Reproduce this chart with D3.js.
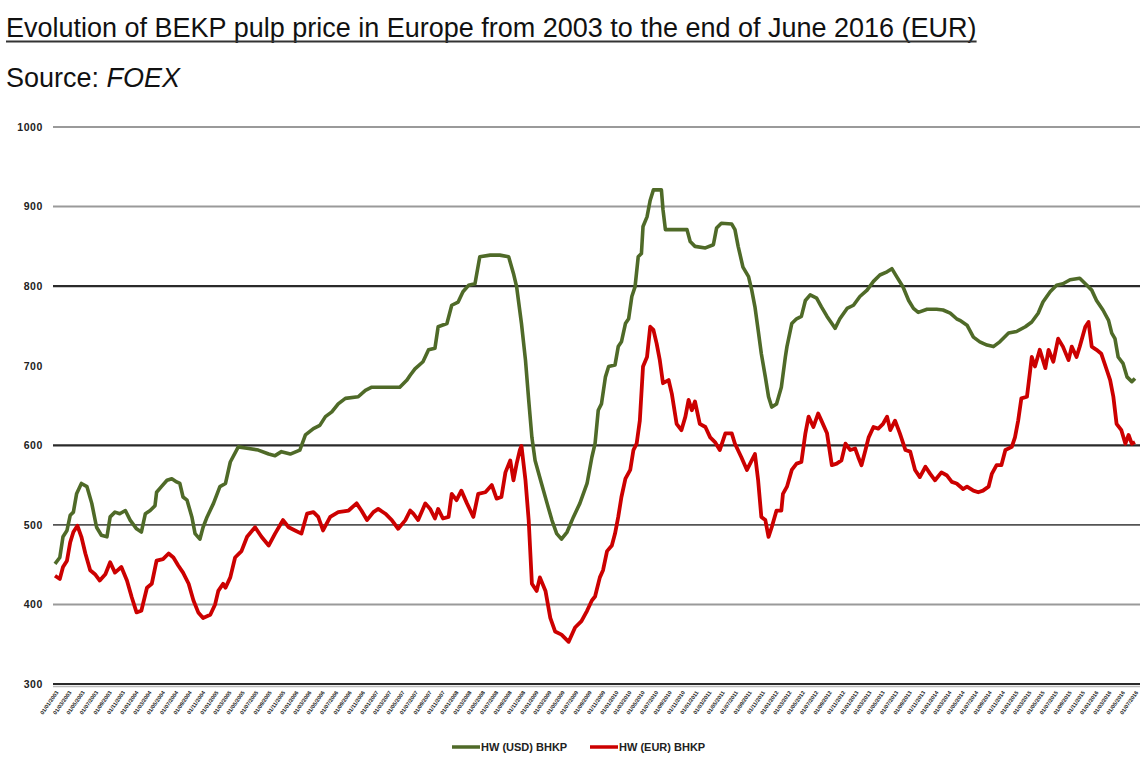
<!DOCTYPE html>
<html>
<head>
<meta charset="utf-8">
<script src="https://cdn.jsdelivr.net/npm/d3@7"></script>
<style>
  body { margin: 0; background: #fff; }
  svg { display: block; font-family: "Liberation Sans", Arial, sans-serif; }
</style>
</head>
<body>
<svg id="chart" width="1143" height="764"></svg>
<script>
// Series names (legend)
var seriesNames = ["HW (USD) BHKP", "HW (EUR) BHKP"];

// HW (USD) BHKP - decimal year / price
var usdYears = [2003.00,2003.06,2003.10,2003.15,2003.19,2003.23,2003.27,2003.33,2003.40,2003.46,2003.52,2003.58,2003.65,2003.69,2003.75,2003.81,2003.88,2003.94,
  2004.02,2004.08,2004.13,2004.19,2004.25,2004.27,2004.33,2004.40,2004.46,2004.52,2004.56,2004.60,2004.65,2004.71,2004.75,2004.81,2004.85,2004.90,2004.98,
  2005.06,2005.13,2005.19,2005.29,2005.42,2005.54,2005.67,2005.75,2005.83,2005.94,2006.06,2006.13,2006.23,2006.31,2006.38,2006.46,2006.54,2006.63,2006.79,2006.88,2006.96,
  2007.13,2007.31,2007.40,2007.44,2007.50,2007.60,2007.67,2007.75,2007.79,2007.90,2007.96,2008.04,2008.10,2008.17,2008.25,2008.31,2008.44,2008.56,2008.67,2008.73,2008.77,2008.83,2008.88,2008.92,2008.96,
  2009.00,2009.08,2009.15,2009.21,2009.27,2009.33,2009.40,2009.48,2009.56,2009.65,2009.71,2009.75,2009.79,2009.83,2009.88,2009.92,
  2010.00,2010.04,2010.08,2010.13,2010.17,2010.21,2010.25,2010.29,2010.33,2010.35,2010.40,2010.44,2010.48,2010.58,2010.60,2010.63,2010.75,2010.90,2010.94,
  2011.00,2011.13,2011.23,2011.27,2011.33,2011.46,2011.50,2011.54,2011.60,2011.67,2011.71,2011.75,2011.79,2011.83,2011.88,2011.92,2011.96,
  2012.02,2012.08,2012.13,2012.15,2012.21,2012.27,2012.33,2012.38,2012.44,2012.52,2012.58,2012.65,2012.71,2012.75,2012.81,2012.90,2012.98,
  2013.06,2013.15,2013.23,2013.31,2013.40,2013.46,2013.52,2013.60,2013.67,2013.73,2013.79,2013.90,
  2014.02,2014.10,2014.19,2014.27,2014.31,2014.40,2014.48,2014.56,2014.65,2014.73,2014.81,2014.92,
  2015.02,2015.13,2015.21,2015.29,2015.35,2015.44,2015.52,2015.60,2015.69,2015.81,2015.88,2015.96,
  2016.02,2016.10,2016.17,2016.21,2016.25,2016.29,2016.35,2016.40,2016.46,2016.50];
var usdValues = [451,459,485,493,512,516,539,552,548,527,497,487,485,510,516,514,518,506,
  495,491,514,518,524,541,548,556,558,554,552,535,531,510,489,482,497,510,527,
  548,552,579,598,596,594,589,587,592,589,594,613,621,625,636,642,652,659,661,669,673,
  673,673,682,688,696,705,720,722,749,753,776,780,793,801,803,837,839,839,837,816,799,753,707,657,610,
  581,552,527,506,489,482,491,510,527,552,585,602,644,652,686,699,
  701,724,730,753,759,787,799,837,841,875,887,908,921,921,896,871,871,871,856,
  850,848,852,873,879,878,871,850,824,812,795,774,745,715,686,661,648,
  652,673,711,724,753,759,762,782,789,785,774,762,753,747,759,772,776,
  787,795,806,814,818,822,812,799,782,772,767,771,
  771,770,766,759,757,751,736,730,726,724,730,741,
  743,749,755,766,780,793,801,803,808,810,803,795,
  782,770,757,741,734,711,703,686,680,684];

// HW (EUR) BHKP
var eurYears = [2003.00,2003.06,2003.10,2003.15,2003.19,2003.23,2003.28,2003.33,2003.38,2003.44,2003.50,2003.56,2003.63,2003.69,2003.75,2003.83,2003.90,2003.96,
  2004.02,2004.08,2004.15,2004.21,2004.27,2004.35,2004.42,2004.48,2004.54,2004.60,2004.67,2004.73,2004.79,2004.85,2004.94,
  2005.00,2005.04,2005.10,2005.13,2005.19,2005.25,2005.33,2005.40,2005.50,2005.58,2005.67,2005.75,2005.85,2005.92,
  2006.00,2006.08,2006.15,2006.23,2006.29,2006.35,2006.44,2006.54,2006.67,2006.77,2006.83,2006.90,2006.98,
  2007.04,2007.13,2007.21,2007.29,2007.38,2007.44,2007.48,2007.54,2007.63,2007.69,2007.75,2007.79,2007.85,2007.92,2007.96,
  2008.02,2008.08,2008.15,2008.23,2008.29,2008.38,2008.46,2008.52,2008.58,2008.63,2008.69,2008.73,2008.77,2008.81,2008.83,2008.88,2008.92,2008.96,
  2009.02,2009.06,2009.13,2009.19,2009.25,2009.33,2009.42,2009.50,2009.58,2009.65,2009.71,2009.75,2009.81,2009.85,2009.90,2009.96,
  2010.00,2010.04,2010.08,2010.13,2010.19,2010.23,2010.27,2010.31,2010.35,2010.40,2010.44,2010.48,2010.52,2010.56,2010.60,2010.67,2010.71,2010.77,2010.83,2010.88,2010.92,2010.96,
  2011.00,2011.06,2011.13,2011.19,2011.25,2011.31,2011.38,2011.46,2011.50,2011.58,2011.65,2011.71,2011.75,2011.79,2011.83,2011.88,2011.92,2011.96,
  2012.02,2012.08,2012.10,2012.15,2012.21,2012.27,2012.33,2012.38,2012.42,2012.48,2012.54,2012.58,2012.65,2012.71,2012.77,2012.83,2012.88,2012.94,
  2013.00,2013.04,2013.08,2013.13,2013.17,2013.23,2013.29,2013.35,2013.40,2013.44,2013.50,2013.56,2013.63,2013.69,2013.75,2013.81,2013.88,2013.94,
  2014.00,2014.08,2014.15,2014.21,2014.27,2014.35,2014.40,2014.48,2014.54,2014.60,2014.67,2014.71,2014.77,2014.83,2014.88,2014.96,
  2015.00,2015.04,2015.08,2015.15,2015.19,2015.21,2015.25,2015.31,2015.38,2015.42,2015.48,2015.54,2015.60,2015.67,2015.71,2015.77,2015.81,2015.88,2015.92,2015.96,
  2016.02,2016.08,2016.15,2016.19,2016.23,2016.27,2016.33,2016.38,2016.42,2016.46,2016.50];
var eurValues = [436,432,447,455,478,491,499,485,464,443,438,430,438,453,440,447,430,409,
  390,392,421,426,455,457,464,459,449,440,426,405,390,383,387,
  400,417,426,421,434,459,467,485,497,485,474,489,506,497,
  493,489,514,516,510,493,510,516,518,527,518,506,516,
  520,514,506,495,506,518,514,506,527,520,508,520,508,510,539,
  531,543,527,510,539,541,550,533,535,566,581,556,577,594,599,556,506,426,
  417,434,417,383,366,362,353,371,379,392,405,410,434,443,467,474,
  489,510,535,558,569,594,602,631,699,711,749,745,728,707,678,682,665,627,619,636,657,644,
  655,627,623,610,604,594,615,615,602,585,569,581,589,556,510,506,485,497,
  518,518,539,548,569,577,579,615,636,623,640,631,615,575,577,581,602,594,
  596,585,575,594,610,623,621,627,636,619,631,615,594,592,569,560,573,564,
  556,566,562,554,552,545,548,543,541,543,548,564,575,575,594,598,
  610,631,659,661,694,711,699,720,697,720,705,734,724,707,724,711,724,749,755,724,
  720,715,694,682,661,627,619,602,613,602,604];

// Y axis ticks (700 has no gridline in the original)
var yTicks = [300, 400, 500, 600, 700, 800, 900, 1000];
var gridValues = [300, 400, 500, 600, 800, 900, 1000];

var colors = ["#4f6a28", "#cc0000"];

function decYear(t) {
  var y = Math.floor(t);
  var start = new Date(y, 0, 1), end = new Date(y + 1, 0, 1);
  return new Date(+start + (t - y) * (end - start));
}

var svg = d3.select("#chart");

// Title + source
var title = svg.append("text")
    .attr("x", 6).attr("y", 37)
    .style("font-size", "27px")
    .style("fill", "#111")
    .text("Evolution of BEKP pulp price in Europe from 2003 to the end of June 2016 (EUR)");
var tlen = title.node().getComputedTextLength();
svg.append("line")
    .attr("x1", 6).attr("x2", 6 + tlen)
    .attr("y1", 41.5).attr("y2", 41.5)
    .style("stroke", "#333").style("stroke-width", 2);

var src = svg.append("text")
    .attr("x", 6).attr("y", 87)
    .style("font-size", "27px")
    .style("fill", "#111");
src.append("tspan").text("Source: ");
src.append("tspan").style("font-style", "italic").text("FOEX");

// Scales
var x = d3.scaleTime()
    .domain([decYear(2003.0), decYear(2016.5)])
    .range([55, 1135]);
var y = d3.scaleLinear()
    .domain([300, 1000])
    .range([684, 127]);

// Gridlines
function gridStyle(v) {
  if (v === 800 || v === 600 || v === 300) return {c: "#2a2a2a", w: 2.2};
  if (v === 500) return {c: "#555", w: 1.6};
  return {c: "#9a9a9a", w: 2};
}
svg.append("g").selectAll("line")
    .data(gridValues)
    .enter().append("line")
    .attr("x1", 53).attr("x2", 1140)
    .attr("y1", function(d) { return y(d); })
    .attr("y2", function(d) { return y(d); })
    .style("stroke", function(d) { return gridStyle(d).c; })
    .style("stroke-width", function(d) { return gridStyle(d).w; });
// light shadow under the baseline
svg.append("line")
    .attr("x1", 53).attr("x2", 1140)
    .attr("y1", y(300) + 2.5).attr("y2", y(300) + 2.5)
    .style("stroke", "#bbb").style("stroke-width", 1.5);

// Y axis labels
var yAxis = d3.axisLeft(y).tickValues(yTicks).tickSize(0).tickPadding(0)
    .tickFormat(d3.format("d"));
var yg = svg.append("g")
    .attr("transform", "translate(43,0)")
    .call(yAxis);
yg.select(".domain").remove();
yg.selectAll("text")
    .attr("font-family", null)
    .style("font-size", "10.5px")
    .style("font-weight", "bold")
    .style("letter-spacing", "0.6px")
    .style("fill", "#222");

// X axis labels, every two months
var xTickDates = d3.timeMonth.every(2).range(decYear(2003.0), decYear(2016.5));
var xAxis = d3.axisBottom(x)
    .tickValues(xTickDates)
    .tickSize(0)
    .tickFormat(d3.timeFormat("%d/%m/%Y"));
var xg = svg.append("g")
    .attr("transform", "translate(0,689)")
    .call(xAxis);
xg.select(".domain").remove();
xg.selectAll("text")
    .attr("font-family", null)
    .style("font-size", "5.5px")
    .style("font-weight", "bold")
    .style("fill", "#222")
    .attr("text-anchor", "end")
    .attr("dy", "0.3em")
    .attr("transform", "rotate(-55) translate(-1,0)");

// Lines
var line = d3.line()
    .x(function(d) { return x(decYear(d[0])); })
    .y(function(d) { return y(d[1]); });

var usd = d3.zip(usdYears, usdValues);
var eur = d3.zip(eurYears, eurValues);

svg.append("path")
    .datum(usd)
    .attr("d", line)
    .style("fill", "none")
    .style("stroke", colors[0])
    .style("stroke-width", 3.6)
    .style("stroke-linejoin", "round");
svg.append("path")
    .datum(eur)
    .attr("d", line)
    .style("fill", "none")
    .style("stroke", colors[1])
    .style("stroke-width", 3.8)
    .style("stroke-linejoin", "round");

// Legend
var legend = svg.append("g").attr("transform", "translate(452,747)");
var items = legend.selectAll("g")
    .data(seriesNames)
    .enter().append("g")
    .attr("transform", function(d, i) { return "translate(" + (i * 138) + ",0)"; });
items.append("line")
    .attr("x1", 0).attr("x2", 28)
    .style("stroke", function(d, i) { return colors[i]; })
    .style("stroke-width", 3.5);
items.append("text")
    .attr("x", 29).attr("y", 4)
    .style("font-size", "11px")
    .style("font-weight", "bold")
    .style("fill", "#222")
    .text(function(d) { return d; });
</script>
</body>
</html>
